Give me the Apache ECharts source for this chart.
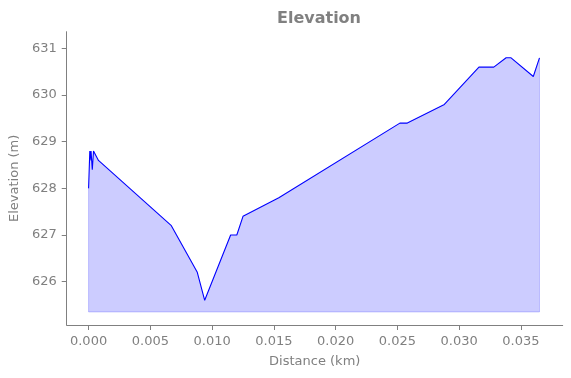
<!DOCTYPE html>
<html>
<head>
<meta charset="UTF-8">
<title>Elevation</title>
<style>
  html, body { margin: 0; padding: 0; background: #fff; }
  #chart { width: 571px; height: 378px; }
</style>
</head>
<body>
<div id="chart"></div>
<script src="https://cdn.jsdelivr.net/npm/echarts@6.0.0/dist/echarts.min.js"></script>
<script>
// distance (km) and elevation (m)
var dist = [0, 0.0001, 0.0002, 0.0002, 0.0003, 0.0004, 0.0008, 0.0067, 0.0088, 0.0094,
            0.0115, 0.0120, 0.0125, 0.0154, 0.0252, 0.0258, 0.0288, 0.0316, 0.0328,
            0.0338, 0.0342, 0.0360, 0.0361, 0.0365];
var elev = [628.0, 628.8, 628.6, 628.8, 628.4, 628.8, 628.6, 627.2, 626.2, 625.6,
            627.0, 627.0, 627.4, 627.8, 629.4, 629.4, 629.8, 630.6, 630.6,
            630.8, 630.8, 630.4, 630.4, 630.8];
var xTicks = [0, 0.005, 0.010, 0.015, 0.020, 0.025, 0.030, 0.035];
var yTicks = [626, 627, 628, 629, 630, 631];

var grey = '#808080';
var font = 'DejaVu Sans';

// fill goes down to a little under the lowest point
var base = Math.min.apply(null, elev) - 0.25;
var pts = dist.map(function (d, i) { return [d, elev[i]]; });
var last = dist.length - 1;
var edge = [[dist[0], elev[0]], [dist[0], base], [dist[last], base], [dist[last], elev[last]]];

var chart = echarts.init(document.getElementById('chart'));

var option = {
    animation: false,
    title: {
        text: 'Elevation',
        left: 314,
        textAlign: 'center',
        top: 6,
        textStyle: { color: grey, fontFamily: font, fontSize: 16, fontWeight: 'bold' }
    },
    grid: { left: 66.3, right: 8.3, top: 31.7, bottom: 53 },
    xAxis: {
        type: 'value',
        min: -0.00177,
        max: 0.03838,
        name: 'Distance (km)',
        nameLocation: 'middle',
        nameGap: 30,
        nameTextStyle: { color: grey, fontFamily: font, fontSize: 13 },
        splitLine: { show: false },
        axisLine: { onZero: false, lineStyle: { color: grey, width: 1 } },
        axisTick: { customValues: xTicks, length: 5, lineStyle: { color: grey } },
        axisLabel: {
            customValues: xTicks,
            margin: 10,
            color: grey, fontFamily: font, fontSize: 13,
            formatter: function (v) { return v.toFixed(3); }
        }
    },
    yAxis: {
        type: 'value',
        min: 625.07,
        max: 631.36,
        name: 'Elevation (m)',
        nameLocation: 'middle',
        nameGap: 42,
        nameTextStyle: { color: grey, fontFamily: font, fontSize: 13 },
        splitLine: { show: false },
        axisLine: { show: true, onZero: false, lineStyle: { color: grey, width: 1 } },
        axisTick: { show: true, customValues: yTicks, length: 5, lineStyle: { color: grey } },
        axisLabel: {
            customValues: yTicks,
            margin: 10,
            color: grey, fontFamily: font, fontSize: 13,
            formatter: function (v) { return String(Math.round(v)); }
        }
    },
    series: [
        {
            name: 'fill',
            type: 'line',
            data: pts,
            symbol: 'none',
            silent: true,
            lineStyle: { width: 0 },
            areaStyle: { origin: base, color: 'rgba(0,0,255,0.2)', opacity: 1 },
            z: 1
        },
        {
            name: 'edge',
            type: 'line',
            data: edge,
            symbol: 'none',
            silent: true,
            lineStyle: { color: 'rgba(0,0,255,0.2)', width: 1 },
            z: 2
        },
        {
            name: 'Elevation',
            type: 'line',
            data: pts,
            symbol: 'none',
            lineStyle: { color: '#0000ff', width: 1.1 },
            z: 3
        }
    ]
};

chart.setOption(option);
</script>
</body>
</html>
